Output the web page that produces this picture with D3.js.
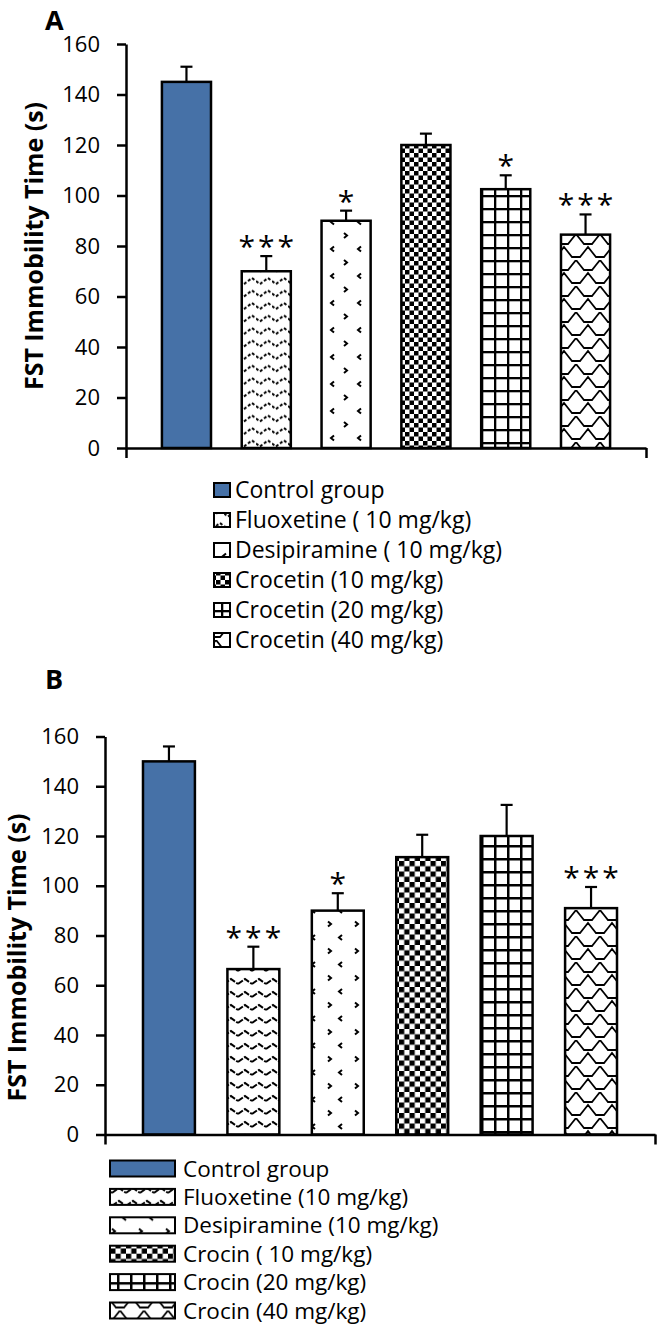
<!DOCTYPE html>
<html><head><meta charset="utf-8">
<script src="https://cdn.jsdelivr.net/npm/d3@7"></script>
<style>body{margin:0;background:#fff}svg{display:block}</style>
</head><body>
<svg id="c" width="657" height="1324"></svg>
<script>
// ---------- data ----------
const categoriesA = ["Control group","Fluoxetine ( 10 mg/kg)","Desipiramine ( 10 mg/kg)","Crocetin (10 mg/kg)","Crocetin (20 mg/kg)","Crocetin (40 mg/kg)"];
const valuesA = [145, 70, 90, 120, 102.5, 84.5];
const errorsA = [6, 6, 4, 4.5, 5.5, 8];
const signifA = ["", "***", "*", "", "*", "***"];

const categoriesB = ["Control group","Fluoxetine (10 mg/kg)","Desipiramine (10 mg/kg)","Crocin ( 10 mg/kg)","Crocin (20 mg/kg)","Crocin (40 mg/kg)"];
const valuesB = [150, 66.5, 90, 111.5, 120, 91];
const errorsB = [6, 9, 7, 9, 12.5, 8.5];
const signifB = ["", "***", "*", "", "", "***"];

const yTicks = [0, 20, 40, 60, 80, 100, 120, 140, 160];
const yDomain = [0, 160];
const yTitle = "FST Immobility Time (s)";

// ---------- drawing ----------
const svg = d3.select("#c");
const FONT = "'Open Sans', 'DejaVu Sans', sans-serif";
const BLUE = "#4671a7";
const defs = svg.append("defs");

function pat(id, w, h, build) {
  const p = defs.append("pattern").attr("id", id).attr("patternUnits", "userSpaceOnUse")
    .attr("width", w).attr("height", h);
  p.append("rect").attr("width", w).attr("height", h).attr("fill", "#fff");
  build(p);
}
// Panel A patterns
pat("a1", 16, 12.5, p => p.append("path").attr("d", "M0,6 L4,9 L8,6 L12,3 L16,6")
  .attr("fill", "none").attr("stroke", "#000").attr("stroke-width", 2).attr("stroke-dasharray", "3,2"));
pat("a2", 27, 27, p => {
  p.append("path").attr("d", "M10,3.5 L7,6 L10,8.5").attr("fill", "none").attr("stroke", "#000").attr("stroke-width", 2);
  p.append("path").attr("d", "M20,17 L23,19.5 L20,22").attr("fill", "none").attr("stroke", "#000").attr("stroke-width", 2);
});
pat("a3", 9, 9, p => {
  p.append("rect").attr("x", 0).attr("y", 0).attr("width", 4.5).attr("height", 4.5).attr("fill", "#000");
  p.append("rect").attr("x", 4.5).attr("y", 4.5).attr("width", 4.5).attr("height", 4.5).attr("fill", "#000");
});
pat("a4", 13, 13, p => {
  p.append("rect").attr("x", 0).attr("y", 0).attr("width", 13).attr("height", 2.3).attr("fill", "#000");
  p.append("rect").attr("x", 0).attr("y", 0).attr("width", 2.3).attr("height", 13).attr("fill", "#000");
});
const scalesPath = "M0,0 L4,5 L8,10 L16,10 L20,5 L24,0 M-12,13 L-8,18 L-4,23 L4,23 L8,18 L12,13 L16,18 L20,23 L28,23 L32,18 L36,13";
pat("a5", 24, 26, p => p.append("path").attr("d", scalesPath)
  .attr("fill", "none").attr("stroke", "#000").attr("stroke-width", 1.8));
// Panel B patterns
pat("b1", 14, 13, p => p.append("path").attr("d", "M0,9 L7,4 L14,9")
  .attr("fill", "none").attr("stroke", "#000").attr("stroke-width", 2).attr("stroke-dasharray", "6,1.5"));
pat("b2", 27, 27, p => {
  p.append("path").attr("d", "M4,3.5 L7,6 L4,8.5").attr("fill", "none").attr("stroke", "#000").attr("stroke-width", 2);
  p.append("path").attr("d", "M18,17 L15,19.5 L18,22").attr("fill", "none").attr("stroke", "#000").attr("stroke-width", 2);
});
pat("b3", 10.5, 10.5, p => {
  p.append("rect").attr("x", 0).attr("y", 0).attr("width", 5.25).attr("height", 5.25).attr("fill", "#000");
  p.append("rect").attr("x", 5.25).attr("y", 5.25).attr("width", 5.25).attr("height", 5.25).attr("fill", "#000");
});
pat("b4", 13, 13, p => {
  p.append("rect").attr("x", 0).attr("y", 0).attr("width", 13).attr("height", 2.5).attr("fill", "#000");
  p.append("rect").attr("x", 0).attr("y", 0).attr("width", 2.5).attr("height", 13).attr("fill", "#000");
});
pat("b5", 24, 26, p => p.append("path").attr("d", scalesPath)
  .attr("fill", "none").attr("stroke", "#000").attr("stroke-width", 1.8));

const fillsA = [BLUE, "url(#a1)", "url(#a2)", "url(#a3)", "url(#a4)", "url(#a5)"];
const fillsB = [BLUE, "url(#b1)", "url(#b2)", "url(#b3)", "url(#b4)", "url(#b5)"];

function panel(cfg) {
  const g = svg.append("g");
  const y = d3.scaleLinear().domain(yDomain).range([cfg.y0, cfg.y1]);
  const x = d3.scaleBand().domain(cfg.cats).range([cfg.left, cfg.right])
    .paddingInner(0.385).paddingOuter(0.45);
  const bw = x.bandwidth();

  // bars
  g.selectAll("rect.bar").data(cfg.cats).join("rect").attr("class", "bar")
    .attr("x", d => x(d)).attr("width", bw)
    .attr("y", (d, i) => y(cfg.vals[i])).attr("height", (d, i) => y(0) - y(cfg.vals[i]))
    .attr("fill", (d, i) => cfg.fills[i]).attr("stroke", "#000").attr("stroke-width", 2.5);

  // error bars
  const eb = g.selectAll("g.err").data(cfg.cats).join("g").attr("class", "err")
    .attr("stroke", "#000").attr("stroke-width", 2.2);
  eb.append("line").attr("x1", d => x(d) + bw / 2).attr("x2", d => x(d) + bw / 2)
    .attr("y1", (d, i) => y(cfg.vals[i])).attr("y2", (d, i) => y(cfg.vals[i] + cfg.errs[i]));
  eb.append("line").attr("x1", d => x(d) + bw / 2 - 6).attr("x2", d => x(d) + bw / 2 + 6)
    .attr("y1", (d, i) => y(cfg.vals[i] + cfg.errs[i])).attr("y2", (d, i) => y(cfg.vals[i] + cfg.errs[i]));

  // significance stars
  g.selectAll("text.sig").data(cfg.cats).join("text").attr("class", "sig")
    .attr("x", d => x(d) + bw / 2 + 1.5)
    .attr("y", (d, i) => y(cfg.vals[i] + cfg.errs[i]) + 1)
    .attr("text-anchor", "middle").attr("font-family", FONT).attr("font-size", 30)
    .attr("letter-spacing", 3)
    .text((d, i) => cfg.sig[i]);

  // y axis
  const ya = g.append("g").attr("transform", `translate(${cfg.left},0)`)
    .call(d3.axisLeft(y).tickValues(yTicks).tickSize(9).tickSizeOuter(0).tickPadding(17));
  ya.select(".domain").attr("stroke-width", 2.5);
  ya.selectAll(".tick line").attr("stroke-width", 2.5);
  ya.selectAll(".tick text").attr("font-family", FONT).attr("font-size", 22).attr("fill", "#000");

  // x axis (line with end ticks)
  const xl = d3.scaleLinear().domain([0, 1]).range([cfg.left, cfg.right]);
  const xa = g.append("g").attr("transform", `translate(0,${cfg.y0})`)
    .call(d3.axisBottom(xl).tickValues([0, 1]).tickFormat("").tickSize(10).tickSizeOuter(0));
  xa.select(".domain").attr("stroke-width", 2.5);
  xa.selectAll(".tick line").attr("stroke-width", 2.5);

  // y title
  g.append("text").attr("transform", `translate(${cfg.titleX},${(cfg.y0 + cfg.y1) / 2 + cfg.titleDy}) rotate(-90)`)
    .attr("text-anchor", "middle").attr("font-family", FONT).attr("font-weight", "bold")
    .attr("font-size", 25).attr("textLength", 288).attr("lengthAdjust", "spacingAndGlyphs")
    .text(yTitle);

  // panel letter
  g.append("text").attr("x", 45).attr("y", cfg.letterY).attr("font-family", FONT)
    .attr("font-weight", "bold").attr("font-size", 27).text(cfg.letter);

  // legend
  const lg = g.append("g");
  const rows = lg.selectAll("g").data(cfg.cats).join("g")
    .attr("transform", (d, i) => `translate(0,${cfg.legY + i * cfg.legStep})`);
  rows.append("rect").attr("x", cfg.swX).attr("y", -cfg.swH / 2).attr("width", cfg.swW).attr("height", cfg.swH)
    .attr("fill", (d, i) => cfg.fills[i]).attr("stroke", "#000").attr("stroke-width", 2);
  rows.append("text").attr("x", cfg.txX).attr("y", 8).attr("font-family", FONT).attr("font-size", cfg.legFont)
    .text(d => d);
}

panel({
  cats: categoriesA, vals: valuesA, errs: errorsA, sig: signifA, fills: fillsA,
  left: 126, right: 646, y0: 448, y1: 44,
  titleX: 43, titleDy: 0, letter: "A", letterY: 30,
  legY: 490, legStep: 30, swX: 214, swW: 16, swH: 14, txX: 235, legFont: 23
});
panel({
  cats: categoriesB, vals: valuesB, errs: errorsB, sig: signifB, fills: fillsB,
  left: 105, right: 655, y0: 1134.5, y1: 736.5,
  titleX: 26, titleDy: 22, letter: "B", letterY: 689,
  legY: 1168.5, legStep: 28.4, swX: 110, swW: 65, swH: 16, txX: 183, legFont: 22.5
});
</script>
</body></html>
